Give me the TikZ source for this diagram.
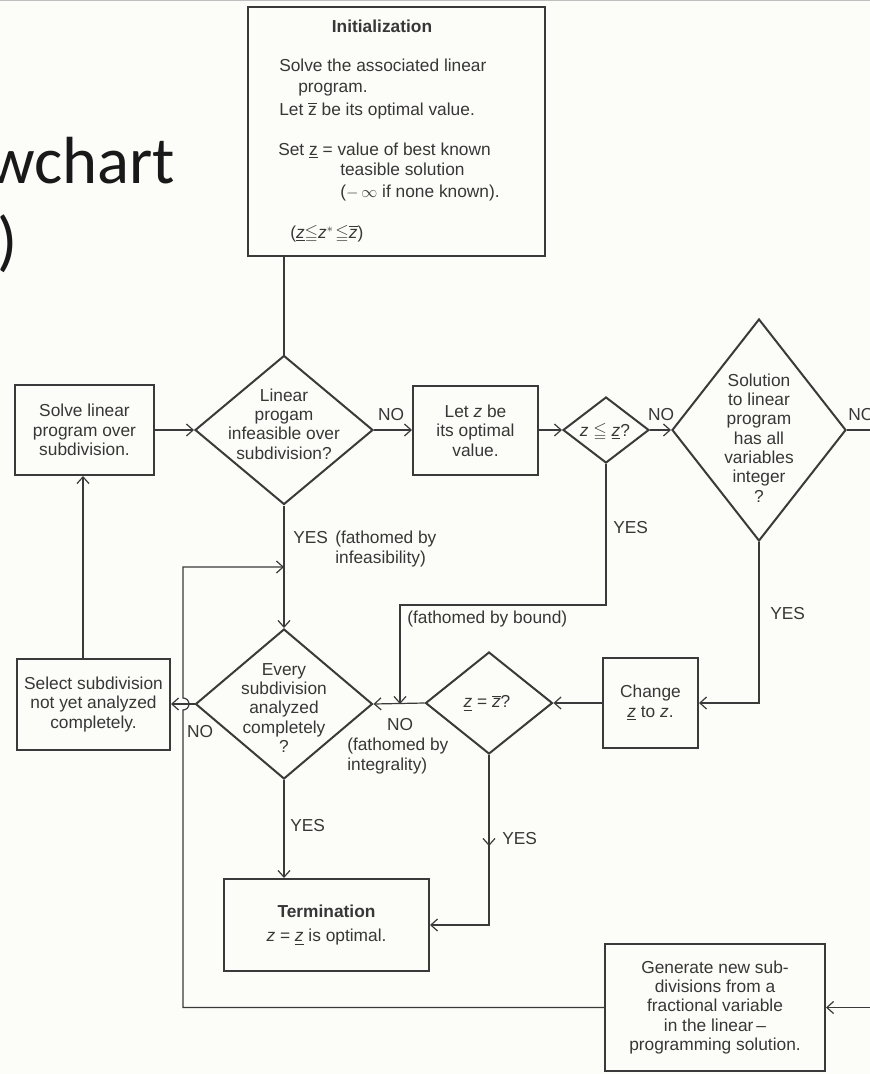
\documentclass[tikz,border=0pt]{standalone}
\usepackage{amssymb}
\usepackage{fontspec}
\setmainfont{Liberation Sans}
\newfontfamily\slidefont{Carlito}
\usetikzlibrary{shapes.geometric,arrows.meta,calc}
\definecolor{lc}{RGB}{58,58,58}
\definecolor{tc}{RGB}{55,55,55}
\definecolor{bgc}{RGB}{252,252,248}
\newcommand\mainfs{\fontsize{13}{14.5}\selectfont}
\newcommand\zbu{\ensuremath{\overline{\mbox{z}}}}
\newcommand\zuu{\ensuremath{\underline{\mbox{z}}}}
\newcommand\zi{\textit{z}}
\newcommand\zbi{\ensuremath{\overline{\mbox{\itshape z}}}}
\newcommand\zui{\ensuremath{\underline{\mbox{\itshape z}}}}
\begin{document}
\begin{tikzpicture}[x=0.75pt,y=-0.75pt,
  ln/.style={draw=lc,line width=0.9pt},
  arr/.style={ln,-{Straight Barb[length=5pt,width=9pt]}},
  rbox/.style={draw=lc,line width=1.5pt,rectangle,inner sep=0pt,align=center,text=tc,font=\mainfs},
  dia/.style={draw=lc,line width=1.5pt,diamond,inner sep=0pt},
  sz/.style 2 args={minimum width=#1*0.75pt,minimum height=#2*0.75pt},
  txt/.style={inner sep=0pt,align=center,text=tc,font=\mainfs},
  lbl/.style={inner sep=0pt,align=left,text=tc,font=\mainfs,anchor=west},
  bl/.style={inner sep=0pt,text=tc,font=\mainfs,anchor=base west},
  slide/.style={inner sep=0pt,anchor=base east,text=black!90,font=\slidefont\fontsize{50}{60}\selectfont}
]
\useasboundingbox (0,0) rectangle (870,1074);
\clip (0,0) rectangle (870,1074);
\fill[bgc] (0,0) rectangle (870,1074);
\fill[black!25] (0,0) rectangle (870,1.5);

% slide title fragments
\node[slide] (ttl1) at (175,183) {wchart};
\node[slide] (ttl2) at (18,263) {)};

% initialization
\node[rbox,sz={297}{249}] (init) at (396.5,131.5) {};
\node[bl,font=\mainfs\bfseries,anchor=base] (it0) at (382,33) {Initialization};
\node[bl] (it1) at (279,72) {Solve the associated linear};
\node[bl] (it2) at (298,93) {program.};
\node[bl] (it3) at (279,115) {Let \zbu{} be its optimal value.};
\node[bl] (it4) at (278,155) {Set \zuu{} = value of best known};
\node[bl] (it5) at (340,175) {teasible solution};
\node[bl] (it6) at (340,197) {($-$\,$\infty$ if none known).};
\node[bl] (it7) at (290,238) {(\zui$\leqq$\zi$^*\!\leqq$\zbi)};

% boxes
\node[rbox,sz={139}{90}] (solve) at (84.5,430) {Solve linear\\program over\\subdivision.};
\node[rbox,sz={125}{89}] (let) at (475.5,430.5) {Let \zi{} be\\its optimal\\value.};
\node[rbox,sz={153}{91}] (select) at (93.5,704.5) {Select subdivision\\not yet analyzed\\completely.};
\node[rbox,sz={95}{90}] (change) at (650.5,703) {Change\\\zui{} to \zi.};
\node[rbox,sz={205}{92}] (term) at (326.5,925) {\textbf{Termination}\\[4pt]\zi{} = \zui{} is optimal.};
\node[rbox,sz={220}{127}] (gen) at (715,1007.5) {Generate new sub-\\divisions from a\\fractional variable\\in the linear\,--\\programming solution.};

% diamonds
\node[dia,sz={178}{149}] (d1) at (284,430) {};
\node[txt] (d1t) at (284,424) {Linear\\progam\\infeasible over\\subdivision?};
\node[dia,sz={86}{66}] (dsm) at (606,430) {};
\node[txt] (dsmt) at (605,432) {\zi{} $\leqq$ \zui?};
\node[dia,sz={174}{222}] (dbig) at (759,430) {};
\node[txt] (dbigt) at (759,438) {Solution\\to linear\\program\\has all\\variables\\integer\\?};
\node[dia,sz={177}{150}] (devery) at (284,704) {};
\node[txt] (deveryt) at (284,708) {Every\\subdivision\\analyzed\\completely\\?};
\node[dia,sz={127}{102}] (deq) at (489,703) {};
\node[txt] (deqt) at (487,703) {\zui{} = \zbi?};

% labels
\node[lbl,anchor=center] (lno1) at (391,415) {NO};
\node[lbl,anchor=center] (lno2) at (661,415) {NO};
\node[lbl] (lno3) at (848,415) {NO};
\node[lbl] (lyes1) at (293,538) {YES};
\node[lbl] (lfi) at (335,549) {(fathomed by\\infeasibility)};
\node[lbl] (lyes2) at (613,528) {YES};
\node[lbl] (lfb) at (407,619) {(fathomed by bound)};
\node[lbl] (lyes3) at (770,614) {YES};
\node[lbl,anchor=center] (lno4) at (200,732) {NO};
\node[lbl,anchor=center] (lno5) at (400,725) {NO};
\node[lbl] (lfint) at (347,756) {(fathomed by\\integrality)};
\node[lbl] (lyes4) at (290,826) {YES};
\node[lbl] (lyes5) at (502,839) {YES};

% helper coordinates
\coordinate (rtx) at (870,0);
\coordinate (lpx) at (183,567);
\coordinate (lpe) at (284,567);
\coordinate (svx) at (83,0);
\coordinate (cb1) at (400,605);
\coordinate (midA) at (489,846);
\coordinate (hop) at (devery.west -| lpx);

% connectors
\draw[ln] (d1.north |- init.south) -- (d1.north);
\draw[arr] (solve.east) -- (d1.west);
\draw[arr] (d1.east) -- (d1.east -| let.west);
\draw[arr] (let.east |- dsm.west) -- (dsm.west);
\draw[arr] (dsm.east) -- (dbig.west);
\draw[ln] (dbig.east) -- (dbig.east -| rtx);
\draw[arr] (gen.east -| rtx) -- (gen.east);
\draw[arr] (d1.south) -- (devery.north);
\draw[arr] (dsm.south) |- (cb1) -- (cb1 |- devery.east);
\draw[arr] (dbig.south) |- (change.east);
\draw[arr] (change.west) -- (deq.east);
\draw[arr] (deq.west) -- (devery.east);
\draw[arr] (deq.south) |- (term.east);
\draw[arr] (deq.south) -- (midA);
\draw[arr] (devery.south) -- (devery.south |- term.north);
\draw[arr] (devery.west) -- (devery.west -| select.east);
\draw[arr] (select.north -| svx) -- (solve.south -| svx);
\draw[arr] (gen.west) -- (gen.west -| lpx) -- ($(hop)+(0,6)$) arc[start angle=90,end angle=-90,radius=6] -- (lpx) -- (lpe);
\end{tikzpicture}
\end{document}
